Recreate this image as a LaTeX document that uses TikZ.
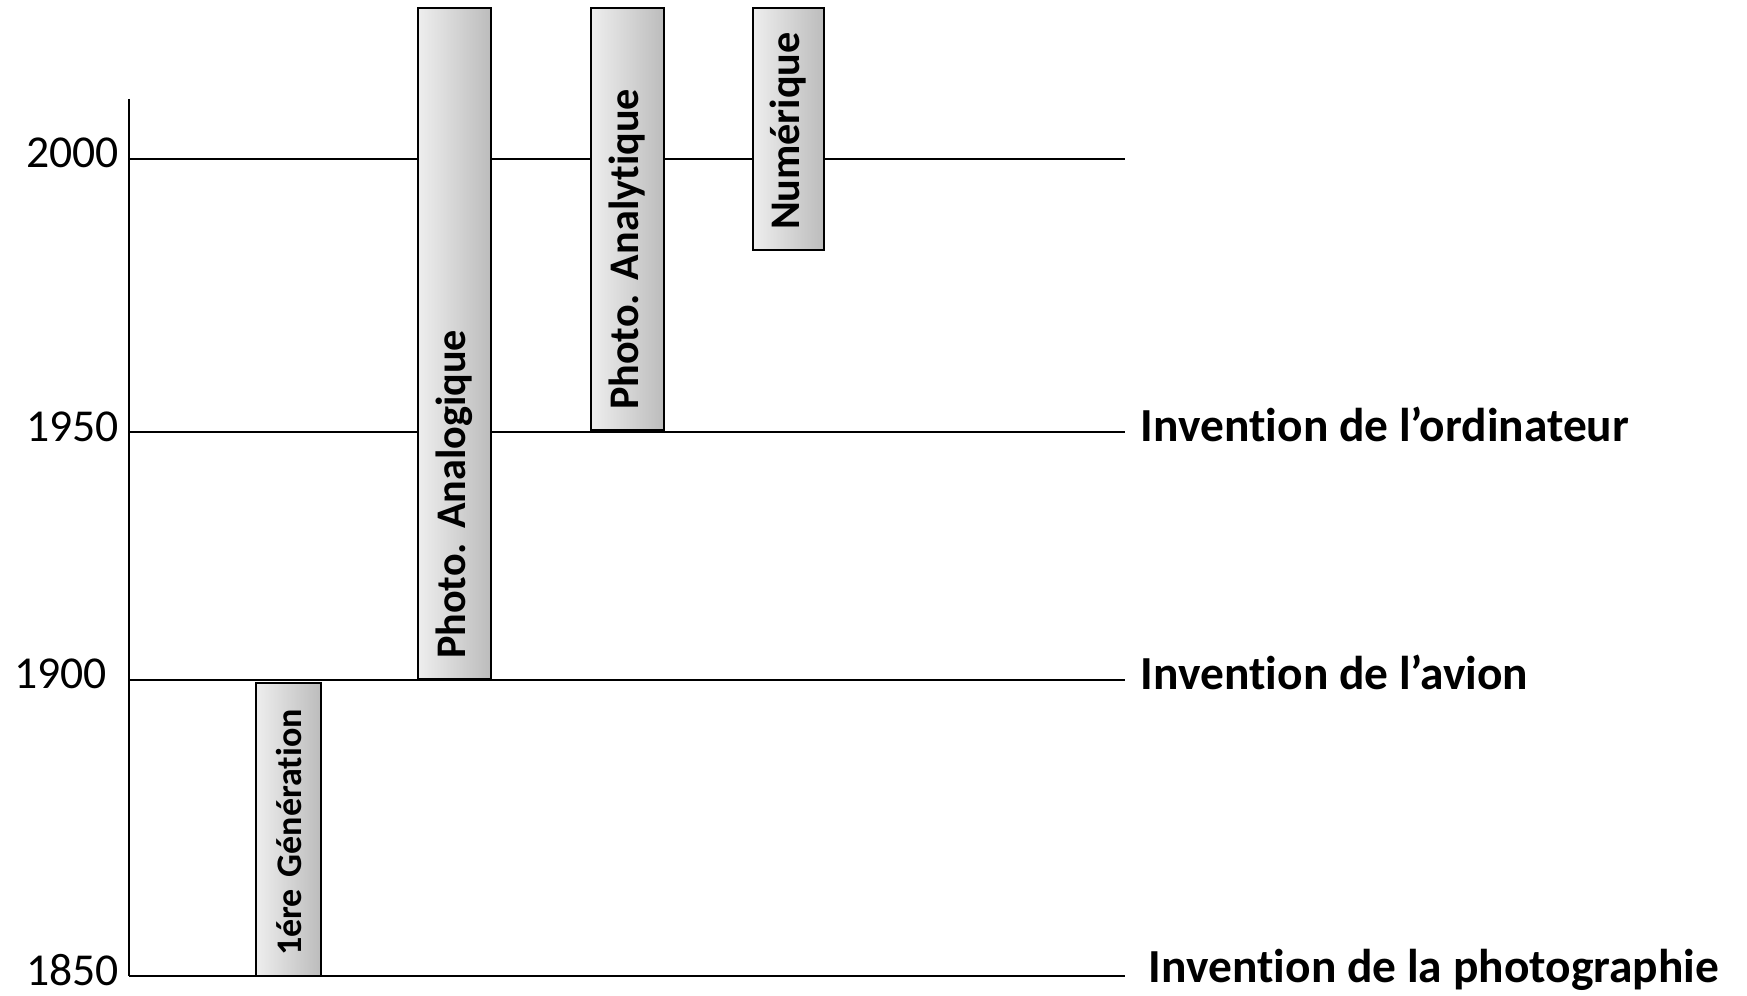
\documentclass[tikz,border=0pt]{standalone}
\usepackage{fontspec}
\setmainfont{Carlito}[Ligatures=NoCommon]
\usetikzlibrary{positioning}
\definecolor{barlight}{RGB}{238,238,238}
\definecolor{bardark}{RGB}{188,188,188}
\tikzset{
  year/.style={anchor=east, inner sep=0pt, font=\fontsize{26}{30}\selectfont},
  event/.style={anchor=base west, inner sep=0pt, font=\fontsize{27}{32}\selectfont\bfseries},
  period/.style={draw, rotate=90, inner xsep=0.4cm, inner ysep=0pt, align=left,
    left color=barlight, right color=bardark, font=\fontsize{24}{28}\selectfont\bfseries\frenchspacing}
}
\begin{document}
\begin{tikzpicture}[x=0.02cm, y=-0.02cm, line width=1.1pt]
  \useasboundingbox (0,0) rectangle (1747,996);
  % time axis
  \coordinate (top) at (129,99);
  \coordinate (o) at (129,976);
  \draw (top) -- (o);
  \foreach \yr/\ypos in {1850/976, 1900/680, 1950/432, 2000/159} {
    \coordinate (l\yr) at (129,\ypos);
    \coordinate (r\yr) at (1125,\ypos);
    \draw (l\yr) -- (r\yr);
  }
  \node[year] (y2000) at (120,153) {2000};
  \node[year] (y1950) at (120,427) {1950};
  \node[year] (y1900) at (108,674) {1900};
  \node[year] (y1850) at (120,970) {1850};
  % periods
  \node[period, text width=5.06cm, minimum height=1.3cm, font=\fontsize{20.5}{25}\selectfont\bfseries] (gen) at (288.5,829.5) {\mbox{1ére Génération}};
  \node[period, text width=12.62cm, minimum height=1.46cm] (analog) at (454.5,343.5) {Photo. Analogique};
  \node[period, text width=7.64cm, minimum height=1.46cm] (analyt) at (627.5,219) {Photo. Analytique};
  \node[period, text width=4.04cm, minimum height=1.42cm] (num) at (788.5,129) {Numérique};
  % events
  \node[event] (ordi) at (1140,441) {Invention de l’ordinateur};
  \node[event] (avion) at (1140,689) {Invention de l’avion};
  \node[event] (photo) at (1148,982) {Invention de la photographie};
\end{tikzpicture}
\end{document}
